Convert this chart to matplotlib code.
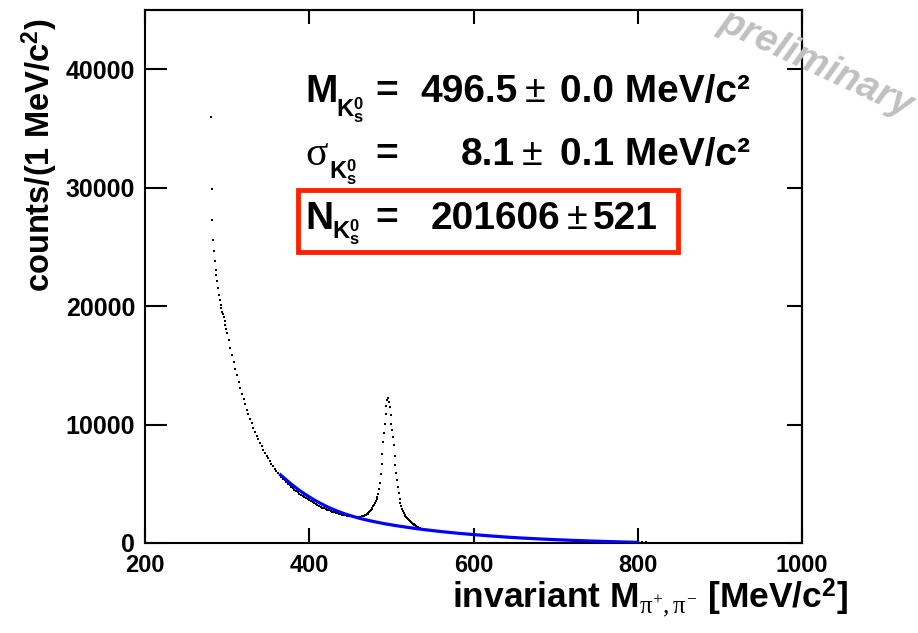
import numpy as np
import matplotlib.pyplot as plt
from matplotlib.patches import Rectangle

# histogram: pi+ pi- invariant mass, counts per MeV bin
thr_mass = np.arange(280, 300)
thr_counts = [36000, 29850, 27260, 25620, 24630, 23850, 23030, 22600, 22160, 21540,
              20970, 20550, 20130, 19800, 19510, 19300, 19090, 18720, 18400, 18070]

bkg_mass = np.arange(300, 465, 2)
bkg_counts = [17750, 17100, 16470, 15860, 15270, 14700, 14150, 13620, 13110, 12620,
              12150, 11700, 11270, 10860, 10470, 10090, 9730, 9390, 9060, 8750,
              8450, 8160, 7890, 7630, 7380, 7140, 6910, 6690, 6480, 6280,
              6090, 5910, 5740, 5580, 5430, 5280, 5140, 5000, 4870, 4740,
              4620, 4500, 4390, 4280, 4170, 4070, 3970, 3870, 3780, 3690,
              3600, 3510, 3430, 3350, 3270, 3200, 3130, 3060, 2990, 2930,
              2870, 2810, 2750, 2700, 2650, 2600, 2560, 2510, 2470, 2430,
              2400, 2370, 2340, 2310, 2290, 2270, 2250, 2230, 2220, 2210,
              2210, 2220, 2250]

peak_mass = np.arange(465, 541)
peak_counts = [2270, 2290, 2320, 2350, 2390, 2430, 2480, 2540, 2610, 2690,
               2780, 2870, 2980, 3090, 3210, 3360, 3510, 3680, 3900, 4170,
               4520, 5050, 5800, 6650, 7550, 8500, 9250, 10050, 10900, 11600,
               12100, 12250, 11900, 11500, 10800, 10050, 9550, 8950, 8250, 7350,
               6550, 5900, 5350, 4750, 4250, 3750, 3400, 3120, 2880, 2680,
               2520, 2400, 2300, 2220, 2130, 2050, 1980, 1900, 1830, 1760,
               1700, 1640, 1580, 1530, 1480, 1400, 1360, 1320, 1290, 1260,
               1230, 1200, 1180, 1160, 1140, 1120]

tail_mass = np.arange(544, 801, 4)
tail_counts = [1100, 1065, 1035, 1000, 970, 940, 912, 885, 858, 830,
               805, 780, 757, 733, 710, 688, 666, 644, 622, 600,
               580, 560, 540, 520, 500, 483, 466, 449, 432, 415,
               401, 387, 373, 359, 345, 332, 319, 306, 293, 280,
               269, 258, 247, 236, 225, 215, 205, 195, 185, 175,
               166, 157, 148, 139, 130, 122, 114, 106, 98, 90,
               83, 76, 69, 62, 55]

far_mass = np.arange(805, 1001, 5)
far_counts = [50, 46, 42, 39, 36, 33, 30, 28, 26, 24,
              22, 20, 18, 17, 16, 15, 14, 13, 12, 11,
              10, 9, 9, 8, 8, 7, 7, 6, 6, 5,
              5, 5, 4, 4, 4, 3, 3, 3, 3, 2]

# background fit curve
fit_mass = [365, 370, 375, 380, 385, 390, 395, 400, 405, 410, 415, 420, 425, 430,
            435, 440, 445, 450, 455, 460, 465, 470, 475, 480, 490, 500, 510, 520,
            530, 540, 550, 560, 570, 580, 590, 600, 620, 640, 660, 680, 700, 720,
            740, 760, 780, 800]
fit_counts = [5750, 5450, 5150, 4870, 4600, 4350, 4110, 3890, 3680, 3480, 3300, 3120,
              2960, 2810, 2670, 2540, 2420, 2310, 2210, 2110, 2020, 1940, 1860, 1790,
              1650, 1530, 1420, 1320, 1220, 1130, 1050, 970, 900, 830, 770, 710,
              600, 500, 415, 345, 280, 225, 175, 130, 90, 55]

xticks = [200, 400, 600, 800, 1000]
yticks = [0, 10000, 20000, 30000, 40000]

plt.rcParams['font.family'] = 'Liberation Sans'
plt.rcParams['font.weight'] = 'bold'
plt.rcParams['mathtext.fontset'] = 'custom'
plt.rcParams['mathtext.rm'] = 'Liberation Serif:weight=normal'
plt.rcParams['mathtext.it'] = 'Liberation Serif:weight=normal'
plt.rcParams['mathtext.bf'] = 'Liberation Sans:bold'

W, H = 918, 633
fig = plt.figure(figsize=(W / 100, H / 100), dpi=100)
ax = fig.add_axes([145 / W, 90 / H, 657 / W, 533 / H])

mass = np.concatenate([thr_mass, bkg_mass, peak_mass, tail_mass, far_mass])
counts = np.concatenate([thr_counts, bkg_counts, peak_counts, tail_counts, far_counts])
ax.plot(mass, counts, ls='none', marker='s', ms=2.0, mew=0, color='black', zorder=2)
ax.plot(fit_mass, fit_counts, color='#0000ff', lw=2.3, zorder=3)

ax.set_xlim(200, 1000)
ax.set_ylim(0, 45000)
ax.set_xticks(xticks)
ax.set_yticks(yticks)
ax.tick_params(direction='in', width=1.5)
ax.tick_params(axis='y', length=16, pad=7, labelsize=18)
ax.tick_params(axis='x', length=10.5, pad=8, labelsize=17)
for s in ax.spines.values():
    s.set_linewidth(1.5)

top = ax.secondary_xaxis('top')
top.set_xticks(xticks)
top.tick_params(direction='in', length=10, width=1.5, labeltop=False)
top.spines['top'].set_linewidth(1.5)
right = ax.secondary_yaxis('right')
right.set_yticks(yticks)
right.tick_params(direction='in', length=10.5, width=1.5, labelright=False)
right.spines['right'].set_linewidth(1.5)

# axis titles
fig.text(50 / W, 1 - 292 / H, r'counts/(1 MeV/c$^{\mathbf{2}}$)', rotation=90,
         rotation_mode='anchor', ha='left', va='baseline', fontsize=23.5)
fig.text(848 / W, 1 - 608 / H, r'invariant M$_{\pi^{+},\pi^{-}}$ [MeV/c$^{\mathbf{2}}$]',
         ha='right', va='baseline', fontsize=25.5)

# fit results: (baseline, symbol, symbol font, K x, K drop, value, value right edge,
#               plus-minus x, rest, rest x)
rows = [
    (102, 'M', 'Liberation Sans', 336, 15, '496.5', 518, 525, '0.0 MeV/c²', 560),
    (165, 'σ', 'Liberation Serif', 329, 14, '8.1', 515, 522, '0.1 MeV/c²', 560),
    (229, 'N', 'Liberation Sans', 332, 10, '201606', 560, 567, '521', 593),
]
kshort = r'$\mathbf{K}^{\mathbf{0}}_{\mathbf{s}}$'
fs = 28
for yb, sym, fam, xk, dk, val, xval, xpm, rest, xrest in rows:
    y = 1 - yb / H
    wt = 'normal' if fam == 'Liberation Serif' else 'bold'
    fig.text(305 / W, y, sym, fontsize=fs + 2 if wt == 'normal' else fs,
             family=fam, fontweight=wt, va='baseline')
    fig.text(xk / W, 1 - (yb + dk) / H, kshort, fontsize=17, va='baseline')
    fig.text(375 / W, y, '=', fontsize=fs, va='baseline')
    fig.text(xval / W, y, val, fontsize=fs, va='baseline', ha='right')
    fig.text(xpm / W, y, '±', fontsize=27, va='baseline', fontweight='normal')
    fig.text(xrest / W, y, rest, fontsize=fs, va='baseline')

fig.add_artist(Rectangle((298 / W, 1 - 252 / H), 380 / W, 62 / H,
                         transform=fig.transFigure, fill=False,
                         ec='#ff2200', lw=3.5))

fig.text(816 / W, 1 - 64 / H, 'preliminary', rotation=-25, rotation_mode='anchor',
         ha='center', va='center', fontsize=28, fontstyle='italic',
         color='#c0c0c0', zorder=10)

fig.savefig('out.png', dpi=100)
